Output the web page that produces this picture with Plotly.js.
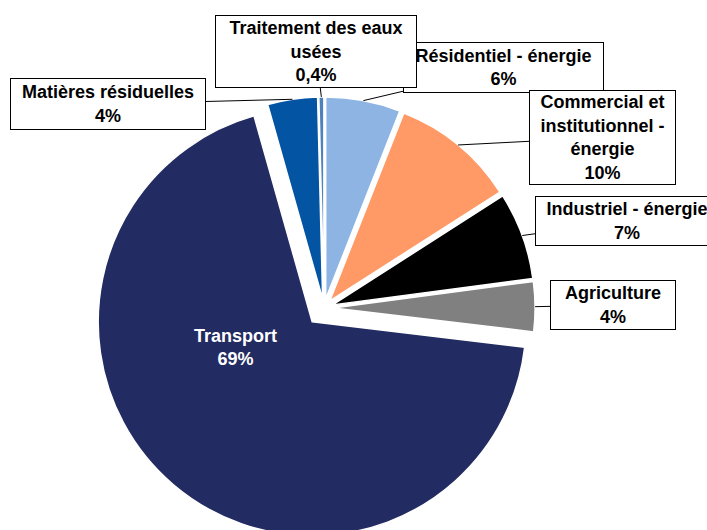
<!DOCTYPE html>
<html><head><meta charset="utf-8">
<script src="https://cdn.plot.ly/plotly-3.0.1.min.js"></script>
<style>html,body{margin:0;padding:0;overflow:hidden;background:#fff}</style>
</head><body><div id="chart"></div>
<script>
// ---- data ----
const categories = ["Résidentiel - énergie","Commercial et institutionnel - énergie","Industriel - énergie","Agriculture","Transport","Matières résiduelles","Traitement des eaux usées"];
const labelLines = ["Résidentiel - énergie","Commercial et<br>institutionnel -<br>énergie","Industriel - énergie","Agriculture","Transport","Matières résiduelles","Traitement des eaux<br>usées"];
const values = [6, 10, 7, 4, 69, 4, 0.4];
const colors = ["#8DB4E2","#FF9966","#000000","#808080","#232C62","#0454A4","#4F81BD"];

// ---- layout constants ----
const W = 707, H = 560;
const CX = 324, CY = 308, M = 464.4;        // pie centre and domain size (px)
const BIG = 4;                               // index of the big slice
const smallPull = 0.045, bigPull = 0.085, dummyPull = 0.1495;
const FONT = "Liberation Sans, Arial, sans-serif";
// callout boxes: [left, top, right, bottom] in px
const boxes = {0:[403,42,604,93], 1:[529,90,676,185], 2:[535,196,719,246], 3:[550,280,676,330], 5:[10,78,206,130], 6:[215,15,417,88]};
const bigLabelPos = [236, 347];

const dom = {x:[(CX-M/2)/W,(CX+M/2)/W], y:[1-(CY+M/2)/H, 1-(CY-M/2)/H]};
const fmt = v => String(v).replace('.', ',') + '%';
const transparent = 'rgba(0,0,0,0)';

const traceBig = {
  type:'pie', values:values, labels:categories, sort:false, direction:'clockwise', rotation:0,
  domain:dom, textinfo:'none', hoverinfo:'label+value',
  pull: values.map((v,i)=> i===BIG ? bigPull : 0),
  marker:{colors: colors.map((c,i)=> i===BIG ? c : transparent),
          line:{color: values.map((v,i)=> i===BIG ? '#ffffff' : transparent), width: values.map((v,i)=> i===BIG ? 1.5 : 0)}},
  showlegend:false
};
const traceSmall = {
  type:'pie', values:values, labels:categories, sort:false, direction:'clockwise', rotation:0,
  domain:dom, textinfo:'none', hoverinfo:'label+value',
  pull: values.map((v,i)=> i===BIG ? dummyPull : smallPull),
  marker:{colors: colors.map((c,i)=> i===BIG ? transparent : c),
          line:{color: values.map((v,i)=> i===BIG ? transparent : '#ffffff'), width: values.map((v,i)=> i===BIG ? 0 : 1.5)}},
  showlegend:false
};

// radius of the small-slice pie as Plotly computes it
const rSmall = M / (2 + 2*dummyPull);
const total = values.reduce((a,b)=>a+b,0);
const annotations = [];
let cum = 0;
values.forEach((v,i)=>{
  const mid = (cum + v/2)/total * 2*Math.PI;
  cum += v;
  if (i === BIG) return;
  const rr = rSmall*(1+smallPull);
  const tx = CX + rr*Math.sin(mid), ty = CY - rr*Math.cos(mid);
  const b = boxes[i];
  const bx = (b[0]+b[2])/2, by = (b[1]+b[3])/2;
  annotations.push({
    xref:'paper', yref:'paper', x: tx/W, y: 1-ty/H,
    ax: bx-tx, ay: by-ty, showarrow:true, arrowhead:0, arrowwidth:1, arrowcolor:'#000',
    text:'<b>'+labelLines[i]+'<br>'+fmt(v)+'</b>',
    font:{family:FONT, size:18, color:'#000'},
    bgcolor:'#fff', bordercolor:'#000', borderwidth:1, borderpad:0,
    width:(b[2]-b[0])-2, height:(b[3]-b[1])-2, align:'center', valign:'middle'
  });
});
annotations.push({
  xref:'paper', yref:'paper', x: bigLabelPos[0]/W, y: 1-bigLabelPos[1]/H, showarrow:false,
  text:'<b>'+labelLines[BIG]+'<br>'+fmt(values[BIG])+'</b>',
  font:{family:FONT, size:18, color:'#fff'}, xanchor:'center', yanchor:'middle'
});

const layout = {
  width:W, height:H, margin:{l:0,r:0,t:0,b:0},
  paper_bgcolor:'#fff', showlegend:false, annotations:annotations
};
Plotly.newPlot('chart', [traceBig, traceSmall], layout, {displayModeBar:false, staticPlot:true});
</script>
</body></html>
